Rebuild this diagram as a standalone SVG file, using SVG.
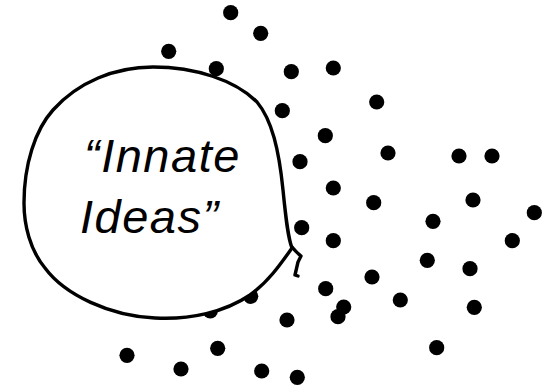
<svg xmlns="http://www.w3.org/2000/svg" width="548" height="388" viewBox="0 0 548 388">
<style>
.d{fill:#000}
.ln{fill:none;stroke:#000;stroke-width:3.4;stroke-linecap:round;stroke-linejoin:round}
.t{font-family:"Liberation Sans",Arial,sans-serif;font-style:italic;font-size:47px;fill:#000;letter-spacing:1.5px}
</style>
<rect width="548" height="388" fill="#fff"/>
<g id="dots" class="d">
<circle cx="230.7" cy="12.7" r="7.6"/>
<circle cx="260.7" cy="33.3" r="7.6"/>
<circle cx="168.7" cy="51.3" r="7.6"/>
<circle cx="216.3" cy="68.7" r="7.6"/>
<circle cx="291.3" cy="71.7" r="7.6"/>
<circle cx="333.3" cy="68" r="7.6"/>
<circle cx="376.7" cy="102" r="7.6"/>
<circle cx="282.3" cy="110.7" r="7.6"/>
<circle cx="325.3" cy="135.7" r="7.6"/>
<circle cx="300" cy="161.7" r="7.6"/>
<circle cx="388" cy="153" r="7.6"/>
<circle cx="459" cy="156" r="7.6"/>
<circle cx="492" cy="156" r="7.6"/>
<circle cx="333.3" cy="188" r="7.6"/>
<circle cx="373.7" cy="202.7" r="7.6"/>
<circle cx="473" cy="200" r="7.6"/>
<circle cx="534.3" cy="212.7" r="7.6"/>
<circle cx="433" cy="221.3" r="7.6"/>
<circle cx="301.7" cy="227.7" r="7.6"/>
<circle cx="333.3" cy="240.7" r="7.6"/>
<circle cx="512.3" cy="240.7" r="7.6"/>
<circle cx="427.3" cy="260.3" r="7.6"/>
<circle cx="470" cy="268.7" r="7.6"/>
<circle cx="372" cy="277" r="7.6"/>
<circle cx="325.7" cy="288.7" r="7.6"/>
<circle cx="400.3" cy="300" r="7.6"/>
<circle cx="343.7" cy="307" r="7.6"/>
<circle cx="338" cy="316.7" r="7.6"/>
<circle cx="474.3" cy="307.3" r="7.6"/>
<circle cx="287" cy="320" r="7.6"/>
<circle cx="436.7" cy="347.7" r="7.6"/>
<circle cx="297.3" cy="377.3" r="7.6"/>
<circle cx="250.7" cy="296.3" r="7.6"/>
<circle cx="210.3" cy="311" r="7.6"/>
<circle cx="127" cy="355.3" r="7.6"/>
<circle cx="217.7" cy="348.3" r="7.6"/>
<circle cx="181" cy="369" r="7.6"/>
<circle cx="261.7" cy="371" r="7.6"/>
</g>
<g id="balloon">
<path class="ln" style="fill:#fff" d="M292,248 C280,265 268,282 250,295 C225,312 190,320 155,318 C110,316 65,295 45,268 C30,250 24,225 24,203 C24,165 35,130 53,110 C78,82 115,67 153,67 C195,67 235,80 257,102 C272,120 279,150 283,190 C286,220 288,238 292,248 Z"/>
<path class="ln" d="M292,247 Q296,252 301,256 L298,262 L295,275 L298,276"/>
<text class="t" x="84" y="172">“Innate</text>
<text class="t" x="80" y="233">Ideas”</text>
</g>
</svg>
